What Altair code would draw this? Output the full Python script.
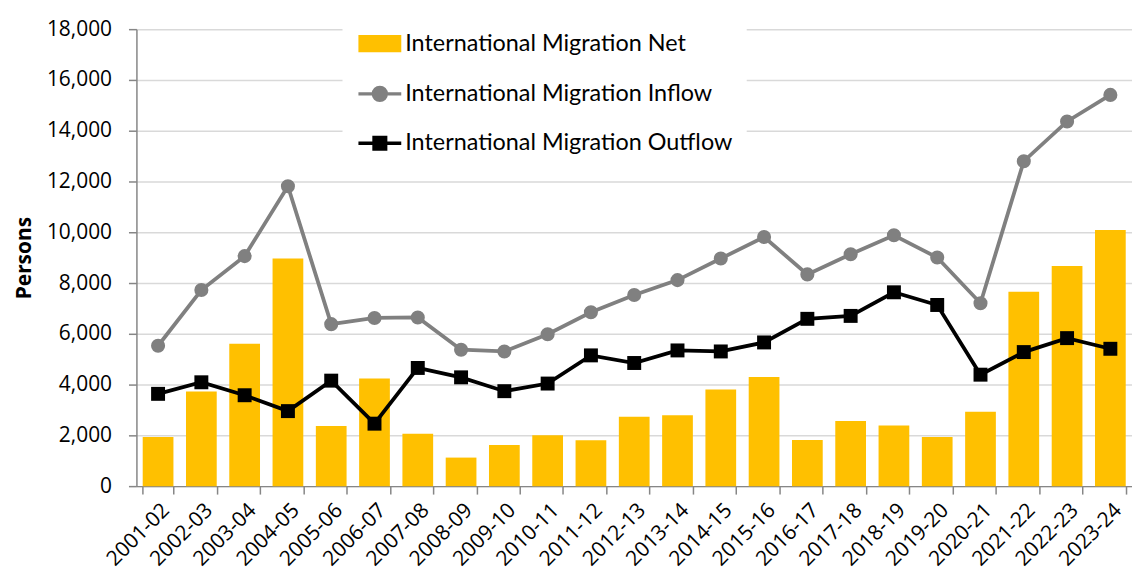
import altair as alt
import pandas as pd

years = ["2001-02", "2002-03", "2003-04", "2004-05", "2005-06", "2006-07", "2007-08",
         "2008-09", "2009-10", "2010-11", "2011-12", "2012-13", "2013-14", "2014-15",
         "2015-16", "2016-17", "2017-18", "2018-19", "2019-20", "2020-21", "2021-22",
         "2022-23", "2023-24"]
net = [1935, 3725, 5608, 8967, 2366, 4235, 2065, 1124, 1621, 2000, 1804, 2733, 2796,
       3804, 4300, 1817, 2562, 2392, 1935, 2928, 7660, 8667, 10092]
inflow = [5530, 7725, 9060, 11815, 6380, 6625, 6645, 5375, 5305, 5985, 6850, 7530, 8115,
          8965, 9810, 8340, 9135, 9880, 9005, 7205, 12800, 14365, 15410]
outflow = [3635, 4090, 3580, 2955, 4155, 2460, 4655, 4285, 3740, 4040, 5150, 4850, 5345,
           5305, 5660, 6590, 6705, 7635, 7135, 4390, 5280, 5830, 5410]

names = ["International Migration Net", "International Migration Inflow",
         "International Migration Outflow"]
colors = ["#FFC000", "#808080", "#000000"]

FONT = "Open Sans"
LFONT = "Lato"

rows = []
for i, y in enumerate(years):
    rows.append({"year": y, "series": names[0], "value": net[i]})
    rows.append({"year": y, "series": names[1], "value": inflow[i]})
    rows.append({"year": y, "series": names[2], "value": outflow[i]})
df = pd.DataFrame(rows)
legend_df = pd.DataFrame({"series": names})

# legend symbols (unit square coords)
sym_bar = "M-0.92,-0.32H0.92V0.32H-0.92Z"
sym_circle = ("M-1,0H1M0.3,0A0.3,0.3,0,1,1,-0.3,0A0.3,0.3,0,1,1,0.3,0Z")
sym_square = "M-1,0H1M-0.27,-0.27H0.27V0.27H-0.27Z"

color_scale = alt.Scale(domain=names, range=colors)
shape_scale = alt.Scale(domain=names, range=[sym_bar, sym_circle, sym_square])

x_enc = alt.X("year:N", sort=years, title=None,
              scale=alt.Scale(paddingInner=0.29, paddingOuter=0.145),
              axis=alt.Axis(labelAngle=-45, tickBand="extent", tickSize=8,
                            domainColor="#868686", tickColor="#868686",
                            domainWidth=1.5, tickWidth=1.5, labelPadding=5,
                            grid=False))
y_enc = alt.Y("value:Q", scale=alt.Scale(domain=[0, 18000], nice=False),
              axis=alt.Axis(values=list(range(0, 18001, 2000)), format=",.0f",
                            title="Persons", titleFontWeight="bold",
                            titlePadding=12, tickSize=8, labelPadding=17,
                            domainColor="#868686", tickColor="#868686",
                            domainWidth=1.5, tickWidth=1.5,
                            gridColor="#D9D9D9", gridWidth=1.5))

base = alt.Chart(df)

leg = alt.Legend(title=None, orient="none", legendX=207, legendY=-23,
                 fillColor="white", padding=14, symbolSize=1849,
                 symbolStrokeWidth=3.5, symbolOpacity=1, rowPadding=12.5,
                 labelFont=LFONT, labelFontSize=23.5, labelColor="black",
                 labelOffset=2, labelLimit=0)

legend_layer = alt.Chart(legend_df).transform_filter("false").mark_point(
    filled=True, opacity=1).encode(
    fill=alt.Fill("series:N", scale=color_scale, legend=leg),
    stroke=alt.Stroke("series:N", scale=color_scale, legend=leg),
    shape=alt.Shape("series:N", scale=shape_scale, legend=leg))

bars = base.transform_filter(alt.datum.series == names[0]).mark_bar(opacity=1).encode(
    x=x_enc, y=y_enc,
    fill=alt.Fill("series:N", scale=color_scale))

lines = base.transform_filter(alt.datum.series != names[0]).mark_line(
    strokeWidth=3.8, opacity=1).encode(
    x=x_enc, y=y_enc,
    stroke=alt.Stroke("series:N", scale=color_scale))

pts_in = base.transform_filter(alt.datum.series == names[1]).mark_point(
    shape="circle", filled=True, size=200, opacity=1).encode(
    x=x_enc, y=y_enc,
    fill=alt.Fill("series:N", scale=color_scale))

pts_out = base.transform_filter(alt.datum.series == names[2]).mark_point(
    shape="square", filled=True, size=196, opacity=1).encode(
    x=x_enc, y=y_enc,
    fill=alt.Fill("series:N", scale=color_scale))

chart = alt.layer(legend_layer, bars, lines, pts_in, pts_out).properties(
    width=1000, height=459, autosize="none",
    padding={"left": 129, "top": 20, "right": 0, "bottom": 84},
).configure_view(stroke=None).configure_axis(
    labelFont=FONT, labelFontSize=21, labelColor="black",
    titleFont=FONT, titleFontSize=21, titleColor="black")

chart.save("out.html", embed_options={"renderer": "svg", "actions": False})
